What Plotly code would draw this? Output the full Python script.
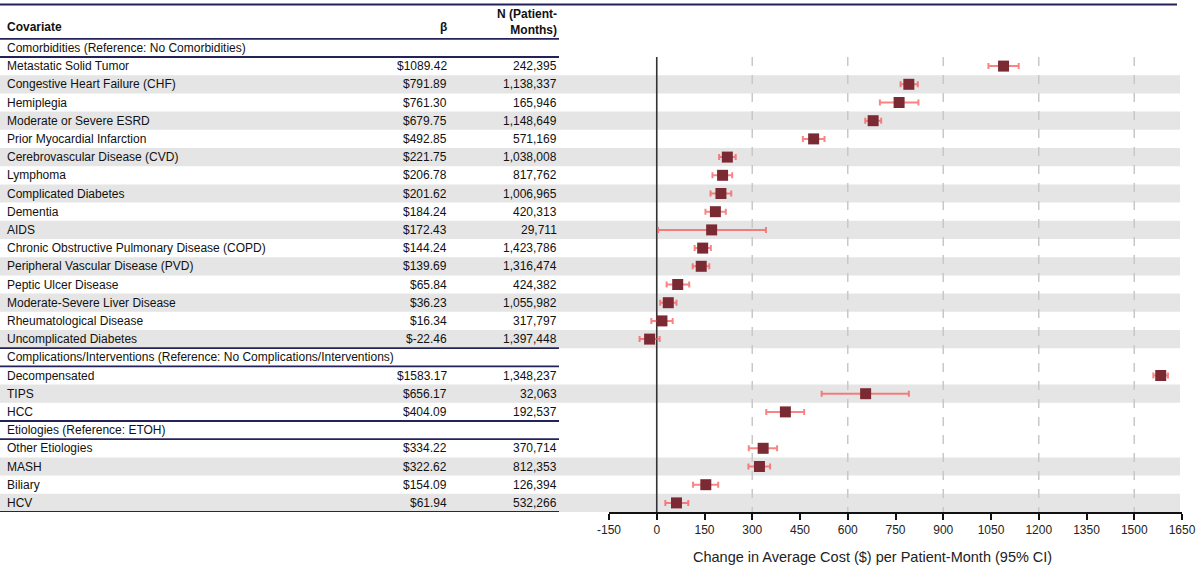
import plotly.graph_objects as go

# ---------------- data ----------------
group_headers = [
    "Comorbidities (Reference: No Comorbidities)",
    "Complications/Interventions (Reference: No Complications/Interventions)",
    "Etiologies (Reference: ETOH)",
]
group_sizes = [16, 3, 4]

covariates = [
    "Metastatic Solid Tumor", "Congestive Heart Failure (CHF)", "Hemiplegia",
    "Moderate or Severe ESRD", "Prior Myocardial Infarction", "Cerebrovascular Disease (CVD)",
    "Lymphoma", "Complicated Diabetes", "Dementia", "AIDS",
    "Chronic Obstructive Pulmonary Disease (COPD)", "Peripheral Vascular Disease (PVD)",
    "Peptic Ulcer Disease", "Moderate-Severe Liver Disease", "Rheumatological Disease",
    "Uncomplicated Diabetes",
    "Decompensated", "TIPS", "HCC",
    "Other Etiologies", "MASH", "Biliary", "HCV",
]
beta = [1089.42, 791.89, 761.30, 679.75, 492.85, 221.75, 206.78, 201.62, 184.24, 172.43,
        144.24, 139.69, 65.84, 36.23, 16.34, -22.46,
        1583.17, 656.17, 404.09,
        334.22, 322.62, 154.09, 61.94]
n_patient_months = [242395, 1138337, 165946, 1148649, 571169, 1038008, 817762, 1006965,
                    420313, 29711, 1423786, 1316474, 424382, 1055982, 317797, 1397448,
                    1348237, 32063, 192537,
                    370714, 812353, 126394, 532266]
ci_low = [1042, 766, 701, 655, 459, 196, 175, 169, 153, 4, 119, 113, 31, 11, -17, -54,
          1560, 518, 344,
          289, 288, 114, 27]
ci_high = [1137, 820, 822, 705, 527, 248, 237, 234, 217, 343, 170, 165, 102, 62, 50, 9,
           1606, 792, 463,
           378, 356, 193, 99]

x_ticks = [-150, 0, 150, 300, 450, 600, 750, 900, 1050, 1200, 1350, 1500, 1650]
grid_values = [300, 600, 900, 1200, 1500]

col_headers = ["Covariate", "β", "N (Patient-<br>Months)"]
x_title = "Change in Average Cost ($) per Patient-Month (95% CI)"

# ---------------- layout helpers ----------------
W, H = 1198, 569
ROW = 18.2
PLOT_TOP = 57
PLOT_BOT = 512
FONT = "Liberation Sans, Arial, sans-serif"
LINE_COL = "#23235a"
BAND_COL = "#e5e5e5"


def px_to_row(py):
    return (py - PLOT_TOP) / ROW - 0.5


rows_y = []
header_rows = []
header_lines = []
band_rows = []
k = -1
for gh, gs in zip(group_headers, group_sizes):
    header_rows.append(k)
    header_lines.append(k + 0.5)
    k += 1
    for j in range(gs):
        rows_y.append(k)
        if j % 2 == 1:
            band_rows.append(k)
        k += 1
    header_lines.append(k - 0.5)

y_top = -0.5 - PLOT_TOP / ROW
y_bottom = 24.5

fig = go.Figure()

shapes = []
for r in band_rows:
    shapes.append(dict(type="rect", xref="paper", yref="y", x0=0, x1=1180 / W,
                       y0=r - 0.5, y1=r + 0.5, fillcolor=BAND_COL, line_width=0, layer="below"))
for g in grid_values:
    shapes.append(dict(type="line", xref="x", yref="y", x0=g, x1=g, y0=-0.5, y1=y_bottom,
                       line=dict(color="#c8c8c8", width=1.5, dash="dash"), layer="below"))
shapes.append(dict(type="line", xref="x", yref="y", x0=0, x1=0, y0=-0.5, y1=y_bottom,
                   line=dict(color="#333333", width=1.6), layer="below"))
shapes.append(dict(type="line", xref="paper", yref="y", x0=0, x1=1177 / W,
                   y0=px_to_row(4.5), y1=px_to_row(4.5), line=dict(color=LINE_COL, width=2)))
for ly in [-1.5] + header_lines:
    shapes.append(dict(type="line", xref="paper", yref="y", x0=0, x1=559 / W,
                       y0=ly, y1=ly, line=dict(color=LINE_COL, width=1.8)))

annotations = []
hy = px_to_row(27)
annotations.append(dict(text="<b>%s</b>" % col_headers[0], x=5 / W, y=hy, xref="paper", yref="y",
                        xanchor="left", yanchor="middle", showarrow=False))
annotations.append(dict(text="<b>%s</b>" % col_headers[1], x=449 / W, y=hy, xref="paper", yref="y",
                        xanchor="right", yanchor="middle", showarrow=False))
annotations.append(dict(text="<b>%s</b>" % col_headers[2], x=559 / W, y=px_to_row(22), xref="paper",
                        yref="y", xanchor="right", yanchor="middle", showarrow=False, align="right"))
for gh, r in zip(group_headers, header_rows):
    annotations.append(dict(text=gh, x=5 / W, y=r, xref="paper", yref="y",
                            xanchor="left", yanchor="middle", showarrow=False))
for name, b, n, r in zip(covariates, beta, n_patient_months, rows_y):
    annotations.append(dict(text=name, x=5 / W, y=r, xref="paper", yref="y",
                            xanchor="left", yanchor="middle", showarrow=False))
    annotations.append(dict(text="$%.2f" % b, x=449 / W, y=r, xref="paper", yref="y",
                            xanchor="right", yanchor="middle", showarrow=False))
    annotations.append(dict(text="{:,}".format(n), x=559 / W, y=r, xref="paper", yref="y",
                            xanchor="right", yanchor="middle", showarrow=False))
annotations.append(dict(text=x_title, x=872 / W, y=(H - 557) / H, xref="paper", yref="paper",
                        xanchor="center", yanchor="middle", showarrow=False,
                        font=dict(size=14.5, color="#222222")))

fig.add_trace(go.Scatter(
    x=beta, y=rows_y, mode="markers",
    marker=dict(symbol="square", size=11, color="#7b2a33"),
    error_x=dict(type="data", symmetric=False,
                 array=[h - b for h, b in zip(ci_high, beta)],
                 arrayminus=[b - l for b, l in zip(beta, ci_low)],
                 color="rgba(248,80,80,0.7)", thickness=2, width=3),
    hoverinfo="skip",
))

fig.update_layout(
    width=W, height=H,
    margin=dict(l=0, r=0, t=0, b=0, autoexpand=False),
    paper_bgcolor="white", plot_bgcolor="rgba(0,0,0,0)",
    showlegend=False,
    font=dict(family=FONT, size=12, color="#111111"),
    shapes=shapes, annotations=annotations,
    xaxis=dict(domain=[609 / W, 1182 / W], range=[-150, 1650], tickvals=x_ticks,
               ticktext=[str(t) for t in x_ticks], showgrid=False, zeroline=False,
               showline=True, linecolor="#111111", linewidth=1.5, ticks="outside",
               ticklen=6, tickwidth=1.5, tickcolor="#111111", automargin=False,
               tickfont=dict(size=12, color="#222222"), fixedrange=True),
    yaxis=dict(domain=[(H - PLOT_BOT) / H, 1.0], range=[y_bottom, y_top], visible=False,
               showgrid=False, zeroline=False, fixedrange=True, automargin=False),
)

fig.write_html("out.html", config={"displayModeBar": False},
               post_script="document.body.style.margin='0px';document.body.style.overflow='hidden';")
